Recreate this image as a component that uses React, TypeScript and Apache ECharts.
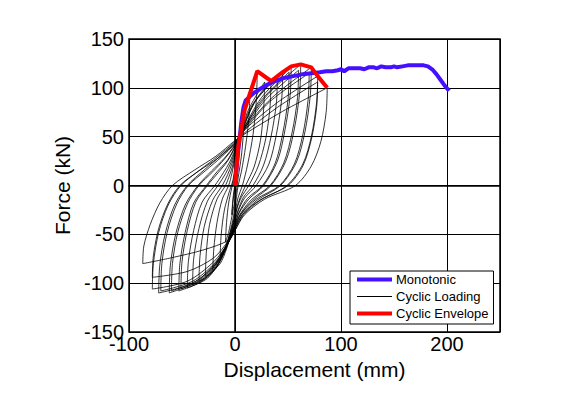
import React, { useEffect, useRef } from "react";
import * as echarts from "echarts";

// ---- Data ----
const monotonic: number[][] = [
  [0, 0], [3, 35], [6, 65], [8, 80], [10, 87], [14, 91], [18, 95], [24, 99], [30, 103],
  [38, 107], [46, 110], [55, 112], [64, 114], [72, 115], [80, 116], [86, 117], [92, 117],
  [97, 118], [100, 119], [103, 117], [107, 120], [113, 120], [118, 120], [122, 119],
  [126, 121], [131, 121], [134, 120], [138, 122], [142, 121], [147, 121], [150, 122],
  [153, 121], [158, 122], [163, 123], [168, 123], [173, 123], [178, 123], [182, 122],
  [186, 119], [190, 114], [194, 108], [198, 102], [202, 97],
];

const cyclicEnvelope: number[][] = [
  [0, 0], [3, 39], [9, 77], [14, 94], [21, 117], [34, 107], [45, 116], [53, 122],
  [62, 124], [72, 121], [78, 112], [87, 100],
];

const loop01 = [[3, 39], [2, 20], [0, 0], [-2, -18], [-3, -30], [-2, -14], [0, 2], [2, 22], [3, 39]];
const loop02 = [[9, 77], [8, 55], [6, 30], [3, 8], [0, -15], [-3, -32], [-6, -48], [-9, -58], [-8, -38], [-6, -18], [-3, -2], [0, 14], [3, 35], [6, 58], [9, 77]];
const loop03 = [[14, 94], [13, 68], [10, 40], [6, 14], [3, 0], [0, -22], [-3, -40], [-8, -60], [-14, -72], [-13, -50], [-10, -25], [-5, -5], [-2, 5], [0, 20], [3, 40], [7, 65], [14, 94]];
const loop04 = [[21, 115], [20, 85], [17, 52], [12, 22], [7, 0], [3, -12], [0, -28], [-3, -45], [-8, -65], [-14, -80], [-21, -87], [-20, -65], [-17, -38], [-12, -14], [-6, 0], [-3, 12], [0, 28], [3, 45], [9, 75], [21, 115]];
const loop05 = [[28, 106], [27, 78], [24, 46], [18, 19], [10, 0], [5, -12], [2, -22], [0, -31], [-4, -46], [-10, -67], [-18, -85], [-28, -93], [-27, -68], [-24, -40], [-17, -14], [-9, 0], [-5, 11], [-2, 21], [0, 31], [4, 46], [12, 76], [28, 106]];
const loop06 = [[34, 108], [33, 80], [29, 48], [22, 20], [13, 0], [6, -12], [2, -23], [0, -33], [-4, -48], [-11, -70], [-21, -88], [-34, -98], [-33, -72], [-29, -42], [-21, -15], [-12, 0], [-7, 11], [-3, 22], [0, 33], [4, 48], [15, 80], [34, 108]];
const loop07 = [[40, 112], [39, 84], [34, 50], [27, 21], [17, 0], [8, -12], [3, -25], [0, -35], [-4, -50], [-12, -73], [-24, -92], [-40, -102], [-39, -75], [-34, -44], [-26, -16], [-16, 0], [-9, 12], [-4, 23], [0, 35], [5, 50], [18, 84], [40, 112]];
const loop08 = [[45, 116], [44, 88], [39, 52], [32, 22], [20, 0], [9, -13], [3, -26], [0, -37], [-4, -52], [-13, -75], [-26, -95], [-45, -105], [-44, -78], [-39, -46], [-31, -17], [-19, 0], [-11, 13], [-5, 24], [0, 37], [5, 52], [20, 88], [45, 116]];
const loop09 = [[51, 116], [50, 88], [45, 53], [38, 23], [26, 0], [12, -13], [4, -27], [0, -39], [-5, -54], [-15, -75], [-29, -95], [-51, -106], [-50, -78], [-45, -46], [-37, -17], [-26, 0], [-16, 13], [-7, 25], [0, 39], [6, 52], [24, 86], [51, 116]];
const loop10 = [[53, 121], [52, 92], [47, 56], [40, 25], [27, 0], [13, -14], [4, -28], [0, -40], [-5, -55], [-15, -77], [-30, -97], [-53, -108], [-52, -80], [-47, -48], [-39, -18], [-27, 0], [-17, 14], [-7, 26], [0, 40], [6, 54], [25, 90], [53, 121]];
const loop11 = [[60, 118], [59, 90], [54, 55], [46, 23], [33, 0], [16, -14], [5, -29], [0, -41], [-5, -55], [-16, -76], [-34, -96], [-60, -108], [-59, -80], [-54, -48], [-45, -19], [-34, 0], [-21, 14], [-10, 27], [0, 41], [6, 53], [29, 88], [60, 118]];
const loop12 = [[62, 124], [61, 95], [56, 58], [48, 25], [34, 0], [17, -15], [5, -30], [0, -42], [-5, -56], [-16, -78], [-35, -98], [-62, -110], [-61, -82], [-56, -50], [-47, -20], [-35, 0], [-22, 15], [-10, 28], [0, 42], [6, 55], [30, 92], [62, 124]];
const loop13 = [[70, 115], [69, 88], [64, 52], [56, 22], [42, 0], [20, -14], [6, -29], [0, -43], [-6, -57], [-18, -78], [-40, -98], [-70, -108], [-69, -80], [-64, -48], [-55, -19], [-44, 0], [-28, 15], [-13, 29], [0, 43], [7, 54], [33, 86], [70, 115]];
const loop14 = [[72, 121], [71, 92], [66, 55], [58, 24], [43, 0], [21, -15], [7, -30], [0, -44], [-6, -58], [-18, -80], [-40, -100], [-72, -110], [-71, -82], [-66, -50], [-57, -20], [-45, 0], [-29, 16], [-14, 30], [0, 44], [7, 56], [35, 90], [72, 121]];
const loop15 = [[78, 106], [77, 80], [72, 47], [64, 20], [50, 0], [25, -14], [8, -28], [0, -44], [-6, -56], [-20, -74], [-45, -88], [-78, -94], [-77, -72], [-72, -44], [-63, -18], [-52, 0], [-34, 15], [-16, 28], [0, 43], [8, 53], [40, 80], [78, 106]];
const loop16 = [[78, 112], [77, 85], [72, 50], [64, 22], [49, 0], [24, -15], [8, -30], [0, -46], [-6, -58], [-20, -78], [-45, -98], [-78, -106], [-77, -80], [-72, -48], [-63, -20], [-51, 0], [-33, 16], [-16, 30], [0, 45], [8, 56], [40, 85], [78, 112]];
const loop17 = [[87, 100], [86, 75], [81, 45], [72, 20], [57, 0], [28, -14], [9, -30], [0, -46], [-6, -56], [-30, -66], [-60, -74], [-87, -80], [-86, -62], [-80, -40], [-71, -18], [-59, 0], [-38, 16], [-18, 30], [0, 46], [8, 52], [45, 76], [87, 100]];

const cyclicLoops = [
  loop01, loop02, loop03, loop04, loop05, loop06, loop07, loop08, loop09,
  loop10, loop11, loop12, loop13, loop14, loop15, loop16, loop17,
];

const legendNames = ["Monotonic", "Cyclic Loading", "Cyclic Envelope"];
const xLabel = "Displacement (mm)";
const yLabel = "Force (kN)";

const FONT = "'Liberation Sans', Arial, Helvetica, sans-serif";
const BLUE = "#4410FF";
const RED = "#FF0000";

export default function App() {
  const ref = useRef<HTMLDivElement>(null);

  useEffect(() => {
    if (!ref.current) return;
    const chart = echarts.init(ref.current, undefined, { renderer: "svg" });

    const loopSeries = cyclicLoops.map((loop) => ({
      name: legendNames[1],
      type: "line",
      data: loop,
      symbol: "none",
      smooth: 0.3,
      lineStyle: { color: "#000000", width: 0.8 },
      itemStyle: { color: "#000000" },
      z: 2,
      silent: true,
    }));

    chart.setOption({
      animation: false,
      backgroundColor: "#ffffff",
      textStyle: { fontFamily: FONT, color: "#000" },
      grid: {
        left: 129,
        right: 65,
        top: 39,
        bottom: 65,
        show: true,
        borderColor: "#000",
        borderWidth: 1.5,
        backgroundColor: "transparent",
      },
      legend: {
        data: [
          { name: legendNames[0], icon: "path://M0 0H35V4H0Z", itemStyle: { color: BLUE } },
          { name: legendNames[1], icon: "path://M0 0H35V1H0Z", itemStyle: { color: "#000" } },
          { name: legendNames[2], icon: "path://M0 0H35V4H0Z", itemStyle: { color: RED } },
        ],
        orient: "vertical",
        left: 350,
        top: 271,
        itemWidth: 35,
        itemHeight: 14,
        itemGap: 4,
        padding: [2, 5, 4, 7],
        backgroundColor: "#ffffff",
        borderColor: "#000",
        borderWidth: 1,
        borderRadius: 0,
        selectedMode: false,
        textStyle: { fontFamily: FONT, fontSize: 13, color: "#000", padding: [0, 0, 0, -1] },
      },
      xAxis: {
        type: "value",
        min: -100,
        max: 250,
        interval: 100,
        name: xLabel,
        nameLocation: "middle",
        nameGap: 24,
        nameTextStyle: { fontFamily: FONT, fontSize: 21, color: "#000" },
        axisLine: { show: true, lineStyle: { color: "#000", width: 1.5 } },
        axisTick: { show: false },
        axisLabel: {
          fontFamily: FONT,
          fontSize: 20,
          color: "#000",
          margin: 2,
          formatter: (v: number) => (v === 250 ? "" : String(v)),
        },
        splitLine: { show: true, lineStyle: { color: "#000", width: 1 } },
      },
      yAxis: {
        type: "value",
        min: -150,
        max: 150,
        interval: 50,
        name: yLabel,
        nameLocation: "middle",
        nameGap: 56,
        nameTextStyle: { fontFamily: FONT, fontSize: 21, color: "#000" },
        axisLine: { show: true, lineStyle: { color: "#000", width: 1.5 } },
        axisTick: { show: false },
        axisLabel: { fontFamily: FONT, fontSize: 20, color: "#000", margin: 5 },
        splitLine: { show: true, lineStyle: { color: "#000", width: 1 } },
      },
      series: [
        ...loopSeries,
        {
          name: legendNames[0],
          type: "line",
          data: monotonic,
          symbol: "none",
          lineStyle: { color: BLUE, width: 4 },
          itemStyle: { color: BLUE },
          z: 3,
          silent: true,
        },
        {
          name: legendNames[2],
          type: "line",
          data: cyclicEnvelope,
          symbol: "none",
          lineStyle: { color: RED, width: 4 },
          itemStyle: { color: RED },
          z: 4,
          silent: true,
        },
      ],
    });

    return () => chart.dispose();
  }, []);

  return (
    <div
      ref={ref}
      style={{ position: "absolute", left: 0, top: 0, width: 565, height: 397, background: "#fff" }}
    />
  );
}
